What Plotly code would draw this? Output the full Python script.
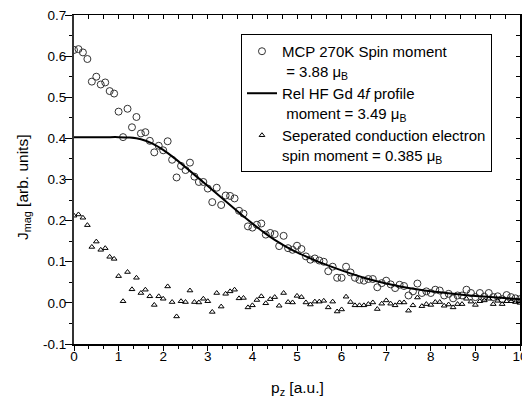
import plotly.graph_objects as go

# ---------------- data ----------------
pz = [round(0.1 * i, 1) for i in range(0, 101)]

mcp_spin = [
    0.615, 0.617, 0.609, 0.593, 0.538, 0.550, 0.531, 0.536, 0.515, 0.509,
    0.465, 0.403, 0.472, 0.427, 0.452, 0.412, 0.415, 0.394, 0.366, 0.382,
    0.371, 0.393, 0.348, 0.305, 0.333, 0.323, 0.341, 0.307, 0.294, 0.294,
    0.278, 0.245, 0.280, 0.238, 0.261, 0.260, 0.254, 0.224, 0.217, 0.186,
    0.183, 0.190, 0.193, 0.166, 0.170, 0.167, 0.138, 0.163, 0.133, 0.129,
    0.139, 0.131, 0.113, 0.105, 0.108, 0.103, 0.100, 0.077, 0.088, 0.061,
    0.061, 0.088, 0.074, 0.061, 0.056, 0.054, 0.058, 0.058, 0.038, 0.048,
    0.054, 0.045, 0.036, 0.044, 0.041, 0.018, 0.028, 0.047, 0.024, 0.028,
    0.024, 0.032, 0.030, 0.018, 0.022, 0.011, 0.018, 0.018, 0.032, 0.024,
    0.014, 0.024, 0.015, 0.024, 0.014, 0.016, 0.009, 0.019, 0.014, 0.011,
    0.009,
]

conduction = [
    0.212, 0.215, 0.207, 0.189, 0.136, 0.149, 0.129, 0.133, 0.112, 0.107,
    0.065, 0.004, 0.075, 0.033, 0.061, 0.024, 0.032, 0.016, -0.005, 0.016,
    0.010, 0.040, 0.002, -0.033, 0.004, 0.002, 0.030, 0.002, 0.001, 0.010,
    0.004, -0.022, 0.024, -0.009, 0.022, 0.028, 0.032, 0.011, 0.012, -0.011,
    -0.006, 0.007, 0.016, -0.001, 0.009, 0.014, -0.007, 0.024, 0.002, 0.001,
    0.017, 0.014, 0.001, -0.004, 0.003, 0.003, 0.005, -0.011, 0.003, -0.021,
    -0.016, 0.015, 0.002, -0.006, -0.006, -0.006, -0.003, 0.001, -0.015, -0.002,
    0.006, -0.002, -0.006, 0.001, 0.001, -0.019, -0.006, 0.013, -0.008, -0.003,
    -0.005, 0.002, 0.002, -0.007, -0.004, -0.011, -0.003, -0.003, 0.010, 0.003,
    -0.005, 0.004, 0.006, 0.010, -0.003, 0.005, -0.003, 0.004, 0.004, 0.002,
    0.000,
]

hf_x = [0, 0.25, 0.5, 0.75, 1.0, 1.25, 1.5, 1.75, 2.0, 2.25, 2.5, 2.75, 3.0,
        3.25, 3.5, 3.75, 4.0, 4.25, 4.5, 4.75, 5.0, 5.5, 6.0, 6.5, 7.0, 7.5,
        8.0, 8.5, 9.0, 9.5, 10.0]
hf_profile = [0.403, 0.403, 0.403, 0.403, 0.403, 0.402, 0.398, 0.388, 0.372,
              0.352, 0.330, 0.307, 0.284, 0.261, 0.238, 0.215, 0.193, 0.172,
              0.153, 0.137, 0.123, 0.099, 0.079, 0.061, 0.047, 0.036, 0.028,
              0.022, 0.017, 0.013, 0.009]

x_ticks = [0, 1, 2, 3, 4, 5, 6, 7, 8, 9, 10]
y_ticks = [-0.1, 0.0, 0.1, 0.2, 0.3, 0.4, 0.5, 0.6, 0.7]
y_tick_text = ["-0.1", "0.0", "0.1", "0.2", "0.3", "0.4", "0.5", "0.6", "0.7"]
x_minor = [round(i / 3, 4) for i in range(0, 31) if i % 3]
y_minor = [round(-0.05 + 0.1 * i, 3) for i in range(0, 8)]

names = [
    "MCP 270K Spin moment<br> = 3.88 \u03bc<sub>B</sub>",
    "Rel HF Gd 4<i>f</i> profile<br> moment = 3.49 \u03bc<sub>B</sub>",
    "Seperated conduction electron<br>spin moment = 0.385 \u03bc<sub>B</sub>",
]

FONT = "Liberation Sans, Arial, Helvetica, sans-serif"

fig = go.Figure()
fig.add_trace(go.Scatter(
    x=pz, y=mcp_spin, mode="markers", name=names[0],
    marker=dict(symbol="circle-open", size=7, color="#333333",
                line=dict(width=1, color="#333333")),
))
fig.add_trace(go.Scatter(
    x=hf_x, y=hf_profile, mode="lines", name=names[1],
    line=dict(color="black", width=2, shape="spline", smoothing=0.6),
))
fig.add_trace(go.Scatter(
    x=pz, y=conduction, mode="markers", name=names[2],
    marker=dict(symbol="triangle-up-open", size=5, color="black",
                line=dict(width=1, color="black")),
))
# markless carriers so the mirrored top / right axes exist as subplots
fig.add_trace(go.Scatter(x=hf_x, y=hf_profile, xaxis="x2", yaxis="y",
                         mode="none", showlegend=False, hoverinfo="skip"))
fig.add_trace(go.Scatter(x=hf_x, y=hf_profile, xaxis="x", yaxis="y2",
                         mode="none", showlegend=False, hoverinfo="skip"))

fig.update_layout(
    width=522, height=399,
    margin=dict(l=74, r=2, t=15, b=55, autoexpand=False),
    paper_bgcolor="white", plot_bgcolor="white",
    font=dict(family=FONT, color="black", size=13.5),
    showlegend=True,
    legend=dict(
        x=0.3744, y=0.9423, xanchor="left", yanchor="top",
        bgcolor="white", bordercolor="black", borderwidth=1,
        font=dict(family=FONT, size=15, color="black"),
        valign="top", tracegroupgap=0, itemwidth=30,
        entrywidthmode="pixels", entrywidth=222,
    ),
    xaxis=dict(
        range=[0, 10], tickmode="array", tickvals=x_ticks,
        ticks="outside", ticklen=5, tickwidth=1, tickcolor="black",
        showline=True, linecolor="black", linewidth=1.5,
        showgrid=False, zeroline=False, automargin=False,
        tickfont=dict(size=13.5), ticklabeloverflow="allow",
        ticklabelstandoff=-6,
        minor=dict(tickmode="array", tickvals=x_minor, ticks="outside",
                   ticklen=3, tickwidth=1, tickcolor="black"),
    ),
    yaxis=dict(
        range=[-0.1, 0.7], tickmode="array", tickvals=y_ticks,
        ticktext=y_tick_text, ticks="outside", ticklen=7, tickwidth=1,
        tickcolor="black", showline=True, linecolor="#333333", linewidth=2,
        showgrid=False, zeroline=False, automargin=False,
        tickfont=dict(size=13.5), ticklabelstandoff=-4,
        minor=dict(tickmode="array", tickvals=y_minor, ticks="outside",
                   ticklen=3.5, tickwidth=1, tickcolor="black"),
    ),
    xaxis2=dict(
        overlaying="x", side="top", anchor="y", range=[0, 10],
        tickmode="array", tickvals=x_minor + x_ticks, ticks="inside",
        ticklen=4, tickwidth=1, tickcolor="black", showticklabels=False,
        showline=True, linecolor="black", linewidth=1, showgrid=False,
        zeroline=False, automargin=False,
    ),
    yaxis2=dict(
        overlaying="y", side="right", anchor="x", range=[-0.1, 0.7],
        tickmode="array", tickvals=y_minor + y_ticks, ticks="inside",
        ticklen=4, tickwidth=1, tickcolor="black", showticklabels=False,
        showline=True, linecolor="black", linewidth=2, showgrid=False,
        zeroline=False, automargin=False,
    ),
    annotations=[
        dict(text="p<sub>z</sub> [a.u.]", xref="paper", yref="paper",
             x=0.5, y=-0.134, xanchor="center", yanchor="middle",
             showarrow=False, font=dict(family=FONT, size=15.5, color="black")),
        dict(text="J<sub>mag</sub> [arb. units]", xref="paper", yref="paper",
             x=-0.113, y=0.4757, xanchor="center", yanchor="middle",
             textangle=-90, showarrow=False,
             font=dict(family=FONT, size=15.5, color="black")),
    ],
)

fig.write_html("out.html")
